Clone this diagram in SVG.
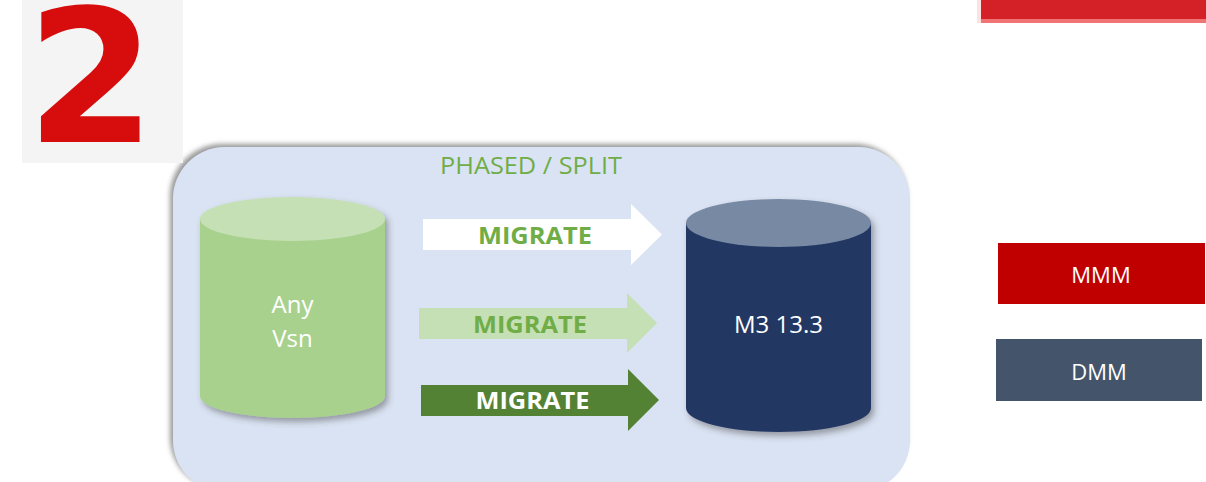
<svg xmlns="http://www.w3.org/2000/svg" width="1206" height="482" viewBox="0 0 1206 482">
<defs>
<filter id="shTL" x="-10%" y="-10%" width="120%" height="120%">
<feDropShadow dx="-3" dy="-3" stdDeviation="2.5" flood-color="#7f7f7f" flood-opacity="0.8"/>
</filter>
<filter id="shBR" x="-10%" y="-10%" width="125%" height="125%">
<feDropShadow dx="3" dy="4" stdDeviation="3" flood-color="#404040" flood-opacity="0.45"/>
</filter>
<style>
.lbl{font-family:"Open Sans","Liberation Sans",sans-serif;fill:#ffffff;text-anchor:middle}
.mig{font-family:"Open Sans","Liberation Sans",sans-serif;font-weight:bold;font-size:23px;text-anchor:middle}
</style>
</defs>
<rect width="1206" height="482" fill="#ffffff"/>

<g id="container">
<rect x="173" y="147" width="737" height="345" rx="52" ry="52" fill="#dae3f3" filter="url(#shTL)"/>
<text x="531" y="174" font-family="'Open Sans','Liberation Sans',sans-serif" font-size="23" fill="#70ad47" text-anchor="middle" textLength="182" lengthAdjust="spacingAndGlyphs">PHASED / SPLIT</text>
</g>

<g id="badge">
<rect x="22" y="0" width="161" height="163" fill="#f4f4f4"/>
<text x="91" y="142" font-family="'DejaVu Sans',sans-serif" font-weight="bold" font-size="186" fill="#d70d0d" text-anchor="middle">2</text>
</g>

<g id="topbar">
<rect x="977" y="0" width="229" height="23" fill="#fbe3e3"/>
<rect x="981" y="0" width="225" height="23" fill="#f07474"/>
<rect x="981" y="0" width="225" height="19" fill="#d42127"/>
</g>

<g id="source-db" filter="url(#shBR)">
<path d="M200 219 V396 A92.5 22 0 0 0 385 396 V219 Z" fill="#a9d18e"/>
<ellipse cx="292.5" cy="219" rx="92.5" ry="22" fill="#c5e0b4"/>
</g>
<g id="source-db-label">
<text class="lbl" x="292.5" y="313" font-size="24">Any</text>
<text class="lbl" x="292.5" y="347" font-size="24">Vsn</text>
</g>

<g id="target-db" filter="url(#shBR)">
<path d="M686 223 V408 A92.5 24 0 0 0 871 408 V223 Z" fill="#203864"/>
<ellipse cx="778.5" cy="223" rx="92.5" ry="24" fill="#7889a4"/>
</g>
<g id="target-db-label">
<text class="lbl" x="778.5" y="333" font-size="24">M3 13.3</text>
</g>

<g id="connectors">
<g id="arrow-1">
<path d="M423 219 H631 V204 L662 234.5 L631 265 V250 H423 Z" fill="#ffffff"/>
<text class="mig" x="535" y="244" fill="#70ad47" textLength="114" lengthAdjust="spacingAndGlyphs">MIGRATE</text>
</g>
<g id="arrow-2">
<path d="M419 308 H627 V293 L657 323 L627 353 V339 H419 Z" fill="#c5e0b4"/>
<text class="mig" x="530" y="333" fill="#70ad47" textLength="114" lengthAdjust="spacingAndGlyphs">MIGRATE</text>
</g>
<g id="arrow-3">
<path d="M421 385 H628 V369 L659 400 L628 431 V416 H421 Z" fill="#548235"/>
<text class="mig" x="532.5" y="409" fill="#ffffff" textLength="114" lengthAdjust="spacingAndGlyphs">MIGRATE</text>
</g>
</g>

<g id="legend-mmm">
<rect x="998" y="243" width="207" height="61" fill="#c00000"/>
<text class="lbl" x="1101" y="283" font-size="22">MMM</text>
</g>
<g id="legend-dmm">
<rect x="996" y="339" width="206" height="62" fill="#44546a"/>
<text class="lbl" x="1099" y="380" font-size="22">DMM</text>
</g>
</svg>
